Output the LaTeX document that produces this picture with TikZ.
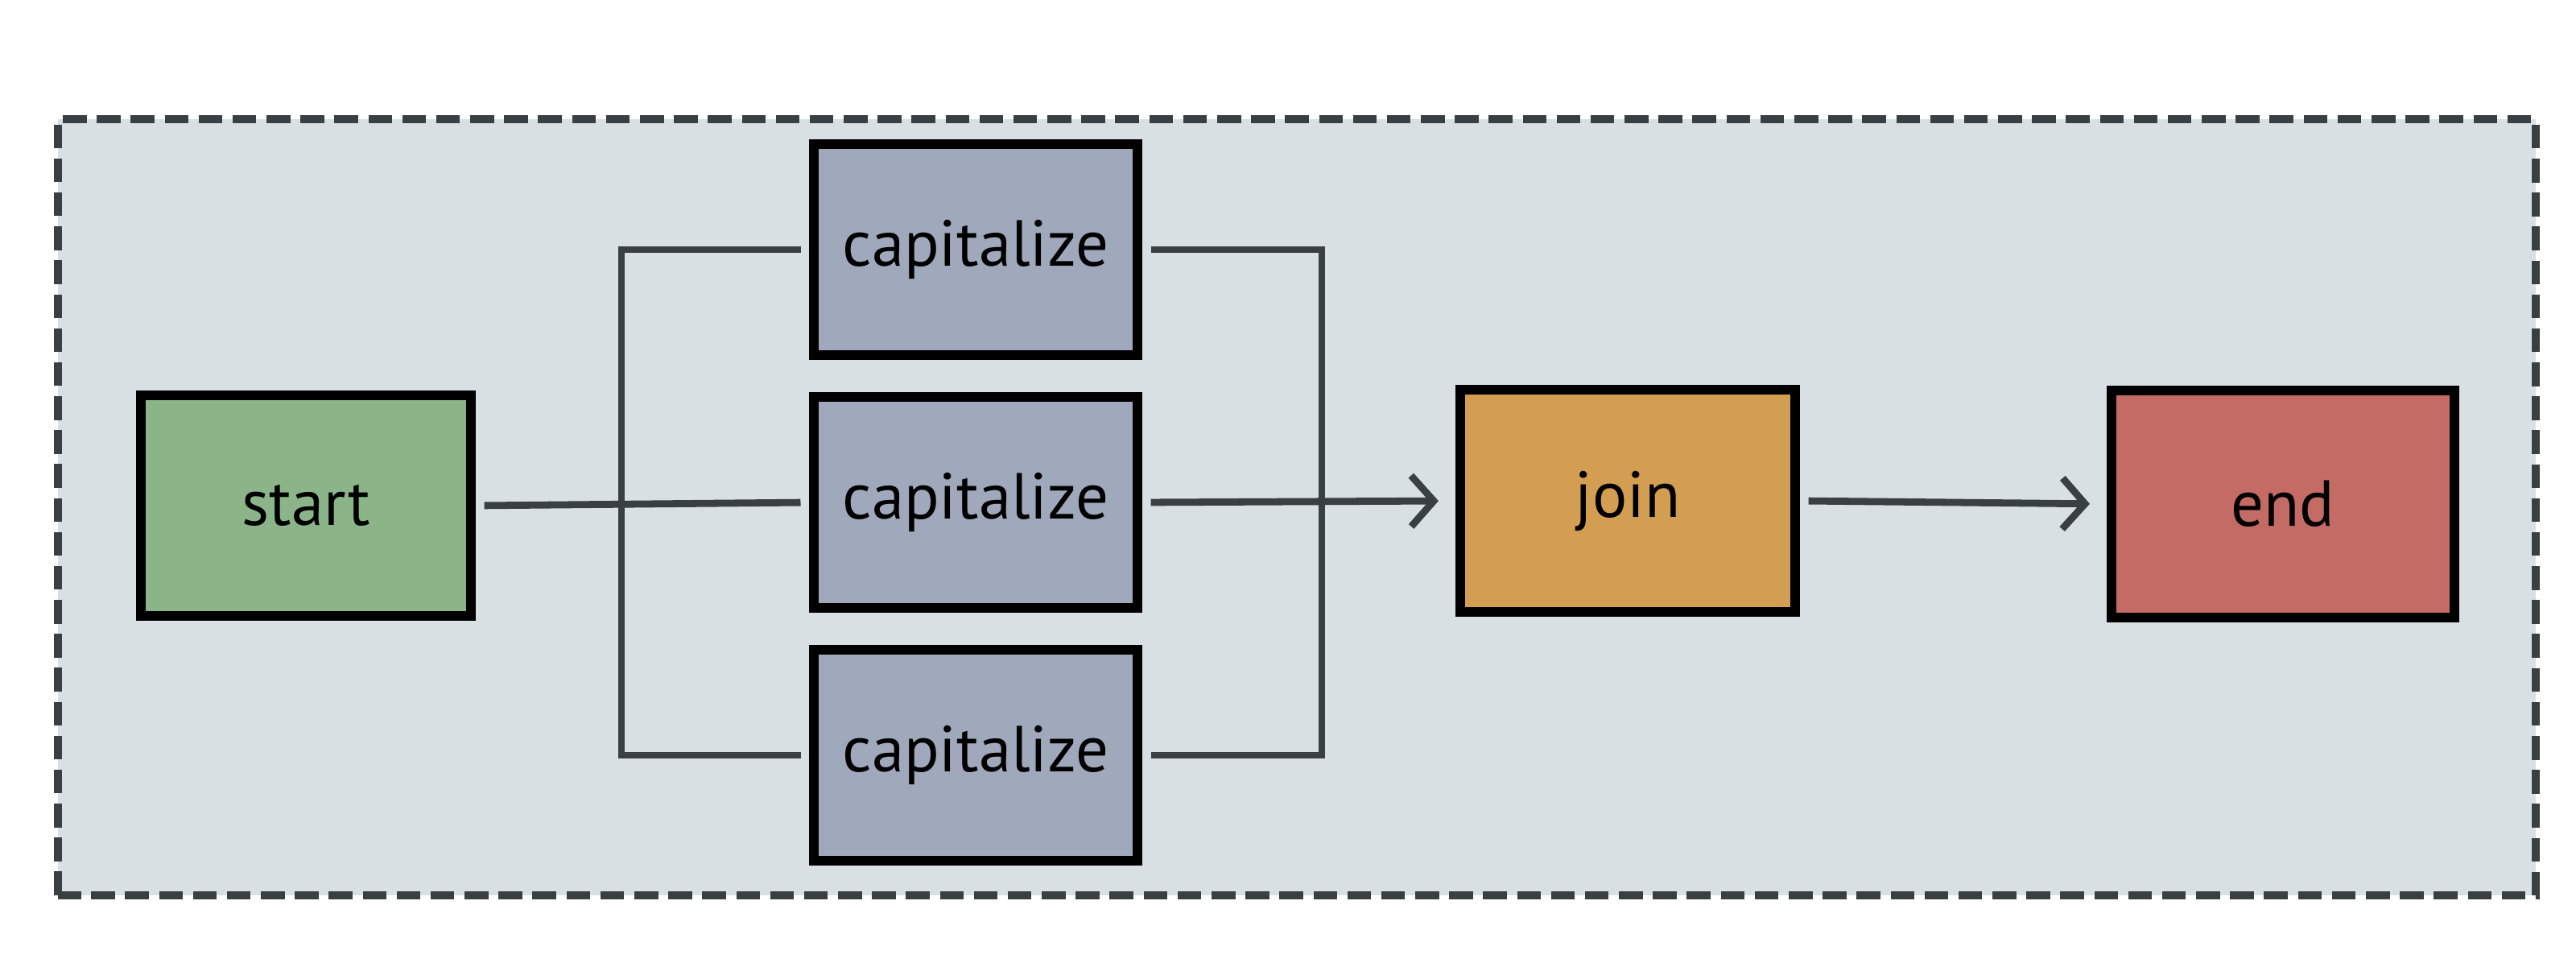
\documentclass[tikz,border=0pt]{standalone}
\usepackage{fontspec}
\setmainfont{PT Sans}
\usetikzlibrary{arrows.meta}
\definecolor{bgpanel}{HTML}{D9E0E3}
\definecolor{startgreen}{HTML}{8BB589}
\definecolor{capgray}{HTML}{A0A9BB}
\definecolor{joinorange}{HTML}{D49E52}
\definecolor{endred}{HTML}{C46B66}
\definecolor{wire}{HTML}{3A3F42}
\tikzset{
  task/.style={draw=black, line width=1.7pt, inner sep=0pt},
  conn/.style={draw=wire, line width=1.25pt, line join=miter},
  flow/.style={conn, -{Straight Barb[length=4pt,width=9pt,line width=1.25pt]}, shorten >=3pt, shorten <=1.5pt}
}
\begin{document}
\begin{tikzpicture}[font=\fontsize{11.5}{13}\selectfont]
\useasboundingbox (0,0) rectangle (16,6);
\fill[white] (0,0) rectangle (16,6);

\draw[fill=bgpanel, draw=wire, line width=1.4pt, dash pattern=on 4.2pt off 1.8pt] (0.36,0.44) rectangle (15.75,5.26);

\node[task, fill=startgreen, minimum width=2.05cm, minimum height=1.37cm] (start) at (1.90,2.86) {start};

\foreach \n/\y in {1/4.45,2/2.88,3/1.31}
\node[task, fill=capgray, minimum width=2.01cm, minimum height=1.31cm] (cap\n) at (6.06,\y) {capitalize};

\node[task, fill=joinorange, minimum width=2.08cm, minimum height=1.38cm] (join) at (10.11,2.89) {join};
\node[task, fill=endred, minimum width=2.13cm, minimum height=1.41cm] (end) at (14.18,2.87) {end};

% fork
\coordinate (forkt) at (3.86,0 |- cap1.west);
\coordinate (forkb) at (3.86,0 |- cap3.west);
\draw[conn, shorten >=1.5pt, shorten <=1.5pt] (start.east) -- (cap2.west);
\draw[conn, shorten >=1.5pt, shorten <=1.5pt] (cap3.west) -- (forkb) -- (forkt) -- (cap1.west);

% merge
\coordinate (mergt) at (8.21,0 |- cap1.east);
\coordinate (mergb) at (8.21,0 |- cap3.east);
\draw[conn, shorten <=1.5pt, shorten >=1.5pt] (cap1.east) -- (mergt) -- (mergb) -- (cap3.east);
\draw[flow] (cap2.east) -- (join.west);
\draw[flow] (join.east) -- (end.west);

\end{tikzpicture}
\end{document}
